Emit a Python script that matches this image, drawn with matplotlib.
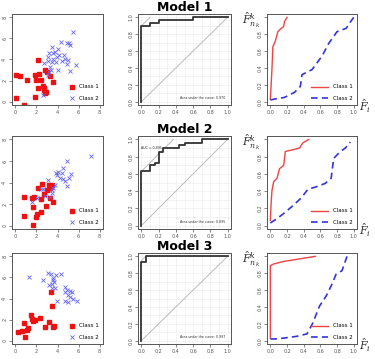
import matplotlib
matplotlib.use('Agg')
import matplotlib.pyplot as plt

# ---- scatter data (x, y) per model ----
m1_c1_x = [2.13, 0.06, 0.41, 1.85, 2.29, 2.82, 2.98, 3.29, 1.94, 1.07, 2.48, 3.61, 2.13, 2.66, 2.76, 2.73, 2.92, 2.79, 1.85, 0.09, 0.78]
m1_c1_y = [3.92, 2.53, 2.43, 2.50, 2.59, 3.04, 2.78, 2.46, 2.08, 2.02, 2.02, 1.82, 1.34, 1.50, 1.25, 1.06, 0.93, 0.80, 0.42, 0.38, -0.32]
m1_c2_x = [5.45, 4.33, 3.45, 3.74, 3.24, 4.08, 4.86, 5.08, 5.17, 4.58, 4.17, 3.95, 3.61, 3.07, 3.13, 3.48, 2.70, 3.86, 4.42, 4.74, 4.96, 4.92, 3.29, 3.42, 4.02, 3.20, 5.14, 5.74, 3.10, 2.66, 3.61]
m1_c2_y = [6.62, 5.66, 5.18, 4.70, 4.64, 5.02, 5.60, 5.60, 5.41, 4.38, 4.42, 4.26, 4.06, 4.22, 3.84, 3.74, 3.68, 3.74, 3.84, 4.00, 3.94, 3.55, 3.30, 3.04, 2.98, 2.85, 2.94, 3.46, 2.56, 0.67, 4.64]

m2_c1_x = [0.82, 0.82, 1.66, 1.94, 2.10, 2.45, 1.63, 1.57, 1.79, 2.41, 2.76, 2.51, 2.19, 2.88, 3.23, 3.45, 3.32, 3.29, 3.61, 3.01]
m2_c1_y = [2.69, 0.89, 0.03, 0.82, 1.04, 1.30, 1.77, 2.56, 2.66, 2.44, 2.97, 3.86, 3.48, 1.84, 3.73, 3.73, 3.48, 2.59, 2.18, 3.32]
m2_c2_x = [7.15, 4.89, 4.51, 3.86, 4.08, 4.23, 4.55, 4.73, 5.08, 5.30, 4.86, 3.76, 3.13, 3.61, 3.45, 3.48, 2.60, 2.48, 2.79, 2.07, 1.54, 3.29, 4.42, 3.98]
m2_c2_y = [6.49, 6.01, 5.32, 4.90, 4.94, 4.43, 4.37, 4.15, 4.43, 4.75, 3.67, 3.73, 4.21, 3.51, 3.32, 3.04, 3.39, 3.42, 2.72, 2.59, 2.22, 2.69, 4.90, 4.68]

m3_c1_x = [3.35, 3.45, 1.47, 1.54, 1.72, 1.82, 2.35, 0.85, 1.16, 1.10, 0.63, 0.25, 0.94, 2.82, 3.17, 3.67, 3.61]
m3_c1_y = [4.64, 3.33, 2.46, 2.05, 1.82, 1.98, 2.11, 1.66, 1.18, 1.02, 0.93, 0.86, 0.32, 1.28, 1.73, 1.41, 1.28]
m3_c2_x = [1.25, 2.66, 3.13, 3.35, 3.86, 4.33, 3.54, 3.67, 3.45, 3.23, 3.76, 3.48, 4.70, 4.86, 5.17, 5.42, 4.70, 5.02, 5.17, 5.49, 5.86, 4.73, 5.02, 3.98, 3.61]
m3_c2_y = [6.05, 5.76, 6.46, 6.37, 6.21, 6.34, 5.79, 5.54, 5.41, 5.31, 5.02, 4.96, 5.06, 4.80, 4.70, 4.64, 4.58, 4.32, 4.16, 4.00, 3.74, 3.81, 3.65, 3.78, 5.95]

# ---- ROC curves (FPR, TPR) ----
m1_fpr = [0, 0, 0.1, 0.1, 0.2, 0.2, 0.6, 0.6, 1.0]
m1_tpr = [0, 0.9, 0.9, 0.933, 0.933, 0.967, 0.967, 1.0, 1.0]
m2_fpr = [0, 0, 0.105, 0.105, 0.16, 0.16, 0.205, 0.205, 0.245, 0.245, 0.44, 0.44, 0.50, 0.50, 0.70, 0.70, 1.0]
m2_tpr = [0, 0.63, 0.63, 0.70, 0.70, 0.73, 0.73, 0.86, 0.86, 0.90, 0.90, 0.93, 0.93, 0.96, 0.96, 1.0, 1.0]
m3_fpr = [0, 0, 0.05, 0.05, 1.0]
m3_tpr = [0, 0.93, 0.93, 1.0, 1.0]
auc_text = ['Area under the curve: 0.970', 'Area under the curve: 0.895', 'Area under the curve: 0.997']
tangent_c = [0.9, 0.63, 0.95]

# ---- empirical distribution curves ----
m1_f1_x = [0, 0.01, 0.02, 0.03, 0.06, 0.09, 0.13, 0.16, 0.17, 0.20]
m1_f1_y = [0.03, 0.20, 0.40, 0.65, 0.72, 0.83, 0.87, 0.89, 0.95, 1.0]
m1_f2_x = [0, 0.05, 0.17, 0.29, 0.36, 0.38, 0.46, 0.50, 0.56, 0.62, 0.70, 0.80, 0.91, 0.95, 1.0]
m1_f2_y = [0.02, 0.03, 0.05, 0.11, 0.18, 0.32, 0.36, 0.38, 0.46, 0.54, 0.69, 0.83, 0.87, 0.93, 1.0]
m2_f1_x = [0, 0.01, 0.02, 0.04, 0.08, 0.11, 0.16, 0.18, 0.27, 0.35, 0.39, 0.46]
m2_f1_y = [0.06, 0.27, 0.41, 0.51, 0.55, 0.66, 0.70, 0.86, 0.88, 0.90, 0.96, 1.0]
m2_f2_x = [0, 0.08, 0.16, 0.27, 0.37, 0.45, 0.55, 0.66, 0.73, 0.76, 0.84, 0.90, 0.96]
m2_f2_y = [0.03, 0.08, 0.14, 0.23, 0.32, 0.42, 0.45, 0.49, 0.55, 0.78, 0.86, 0.90, 0.97]
m3_f1_x = [0, 0, 0.04, 0.16, 0.35, 0.54]
m3_f1_y = [0.03, 0.89, 0.91, 0.94, 0.97, 1.0]
m3_f2_x = [0, 0.06, 0.16, 0.31, 0.44, 0.51, 0.59, 0.67, 0.73, 0.79, 0.86, 0.92]
m3_f2_y = [0.02, 0.02, 0.03, 0.05, 0.08, 0.21, 0.41, 0.53, 0.65, 0.79, 0.83, 1.0]

titles = ['Model 1', 'Model 2', 'Model 3']
scatter = [(m1_c1_x, m1_c1_y, m1_c2_x, m1_c2_y),
           (m2_c1_x, m2_c1_y, m2_c2_x, m2_c2_y),
           (m3_c1_x, m3_c1_y, m3_c2_x, m3_c2_y)]
rocs = [(m1_fpr, m1_tpr), (m2_fpr, m2_tpr), (m3_fpr, m3_tpr)]
ecdfs = [(m1_f1_x, m1_f1_y, m1_f2_x, m1_f2_y),
         (m2_f1_x, m2_f1_y, m2_f2_x, m2_f2_y),
         (m3_f1_x, m3_f1_y, m3_f2_x, m3_f2_y)]

W, H = 375, 359
plt.rcParams['mathtext.fontset'] = 'dejavuserif'
fig = plt.figure(figsize=(W / 100, H / 100), dpi=100)


def rect(l, t, r, b):
    return [l / W, 1 - b / H, (r - l) / W, (b - t) / H]


def style(ax):
    for s in ax.spines.values():
        s.set_color('#555555')
        s.set_linewidth(0.7)
    ax.tick_params(labelsize=3.5, length=2, width=0.5, pad=1.5, colors='#555555')
    for lab in ax.get_yticklabels():
        lab.set_rotation(90)
        lab.set_va('center')


tops = [14, 136, 253]
bots = [105, 229, 344]
red = '#ee1111'
blue = '#6666ee'
ticks = [0, 0.2, 0.4, 0.6, 0.8, 1.0]

for i in range(3):
    t, b = tops[i], bots[i]

    # scatter
    ax = fig.add_axes(rect(12, t, 103, b))
    c1x, c1y, c2x, c2y = scatter[i]
    ax.plot(c1x, c1y, 's', color=red, ms=3, mec=red, label='Class 1')
    ax.plot(c2x, c2y, 'x', color=blue, ms=3.5, mew=0.6, label='Class 2')
    ax.set_xlim(-0.32, 8.32)
    ax.set_ylim(-0.32, 8.32)
    ax.set_xticks([0, 2, 4, 6, 8])
    ax.set_yticks([0, 2, 4, 6, 8])
    style(ax)
    ax.legend(loc='lower right', frameon=False, fontsize=4, handlelength=1,
              handletextpad=0.8, labelspacing=1.2, borderaxespad=0.3)

    # ROC
    ax = fig.add_axes(rect(138, t, 231, b))
    ax.set_xlim(-0.04, 1.04)
    ax.set_ylim(-0.04, 1.04)
    ax.set_xticks(ticks)
    ax.set_yticks(ticks)
    ax.set_xticks([k / 10 for k in range(11)], minor=True)
    ax.set_yticks([k / 10 for k in range(11)], minor=True)
    ax.tick_params(which='minor', length=0)
    ax.grid(True, which='both', color='#eeeeee', lw=0.5)
    ax.set_axisbelow(True)
    ax.plot([0, 1], [0, 1], color='#bbbbbb', lw=0.7)
    c = tangent_c[i]
    ax.plot([0, 1 - c], [c, 1], color='#bbbbbb', lw=0.7)
    fpr, tpr = rocs[i]
    ax.plot(fpr, tpr, color='#333333', lw=1.3)
    ax.text(0.98, 0.02, auc_text[i], fontsize=2.3, ha='right', va='bottom', color='#333333')
    if i == 1:
        ax.text(0.0, 0.9, 'AUC = 0.895', fontsize=2.3, ha='left', va='center', color='#333333')
    style(ax)
    ax.set_title(titles[i], fontsize=9, fontweight='bold', pad=1.5)

    # empirical distribution functions
    ax = fig.add_axes(rect(267, t, 357, b))
    f1x, f1y, f2x, f2y = ecdfs[i]
    ax.plot(f1x, f1y, color='#ee4444', lw=1.0, label='Class 1')
    ax.plot(f2x, f2y, color='#3333dd', lw=1.2, ls=(0, (4, 2.5)), label='Class 2')
    ax.set_xlim(-0.04, 1.04)
    ax.set_ylim(-0.04, 1.04)
    ax.set_xticks(ticks)
    ax.set_yticks(ticks)
    ax.set_yticklabels(['0.0', '0.2', '0.4', '0.6', '0.8', ''])
    style(ax)
    ax.legend(loc='lower right', frameon=False, fontsize=4, handlelength=3,
              handletextpad=1.0, labelspacing=1.2, borderaxespad=0.3)

    fig.text(251 / W, 1 - (t + 6) / H, r'$\hat{F}_{n_k}^{k}$', fontsize=8,
             ha='center', va='center', color='#333333')
    fig.text(365 / W, 1 - (b + 1) / H, r'$\hat{F}_{i}$', fontsize=8,
             ha='center', va='center', color='#333333')

fig.savefig('out.png', dpi=100)
